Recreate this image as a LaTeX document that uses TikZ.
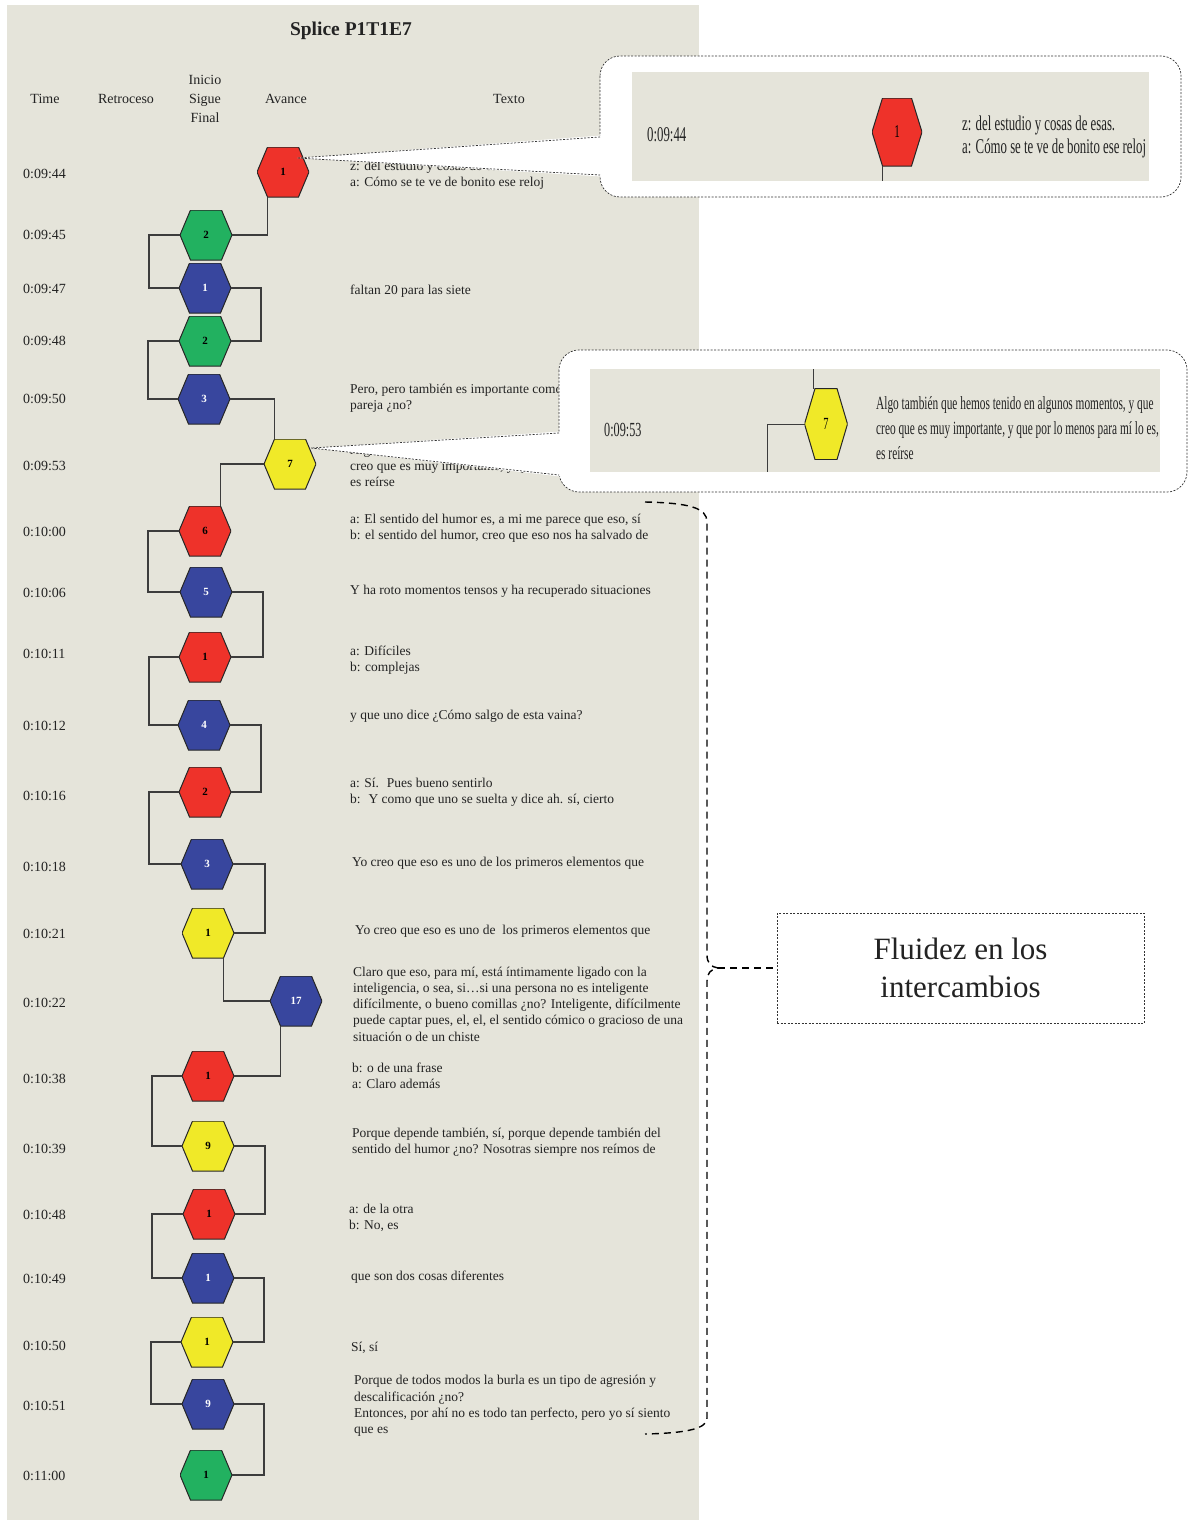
\documentclass[tikz,border=0pt]{standalone}
\usepackage{fontspec}
\setmainfont{Liberation Serif}
\newfontfamily\condfont[FakeStretch=0.61]{Liberation Serif}
\usetikzlibrary{calc}
\definecolor{bgc}{RGB}{229,228,218}
\definecolor{hred}{RGB}{238,50,42}
\definecolor{hgreen}{RGB}{34,177,96}
\definecolor{hblue}{RGB}{56,70,158}
\definecolor{hyellow}{RGB}{240,233,40}
\definecolor{lnc}{RGB}{60,60,60}
\definecolor{txc}{RGB}{35,35,35}
\tikzset{
  hexbase/.style={shape=rectangle, inner sep=0pt, outer sep=0pt, minimum width=52pt, minimum height=50pt,
    path picture={\filldraw[draw=black!85, line width=1pt, fill=#1]
      (path picture bounding box.west) -- ([xshift=10.5pt]path picture bounding box.north west)
      -- ([xshift=-10.5pt]path picture bounding box.north east) -- (path picture bounding box.east)
      -- ([xshift=-10.5pt]path picture bounding box.south east) -- ([xshift=10.5pt]path picture bounding box.south west)
      -- cycle;}},
  hexnum/.style={font=\fontsize{11}{12}\selectfont\bfseries},
  hexR/.style={hexbase=hred, hexnum, text=black},
  hexG/.style={hexbase=hgreen, hexnum, text=black},
  hexY/.style={hexbase=hyellow, hexnum, text=black},
  hexB/.style={hexbase=hblue, hexnum, text=white},
  conn/.style={draw=lnc, line width=1.3pt},
  tm/.style={anchor=west, inner sep=0pt, font=\fontsize{14}{16}\selectfont, text=txc},
  hd/.style={inner sep=0pt, align=center, font=\fontsize{14}{19}\selectfont, text=txc},
  tx/.style={anchor=west, inner sep=0pt, align=left, font=\fontsize{13.5}{16.25}\selectfont, text=txc},
  callout/.style={draw=black!80, line width=0.7pt, dash pattern=on 2pt off 1.5pt},
  ctime/.style={anchor=west, inner sep=0pt, font=\condfont\fontsize{21}{23}\selectfont, text=txc},
  ctext/.style={anchor=west, inner sep=0pt, align=left, font=\condfont\fontsize{20}{24}\selectfont, text=txc},
  brace/.style={draw=black, line width=1.4pt, dash pattern=on 7pt off 5pt},
  flbox/.style={draw=black!80, line width=0.7pt, dash pattern=on 2pt off 1.5pt, align=center,
    minimum width=367pt, minimum height=110pt, inner sep=0pt, font=\fontsize{31}{38}\selectfont, text=txc}
}
\begin{document}
\begin{tikzpicture}[x=1pt,y=-1pt]
\useasboundingbox (0,0) rectangle (1190,1520);
\fill[white] (0,0) rectangle (1190,1520);
\fill[bgc] (7,5) rectangle (699,1520);

% title and headers
\node[font=\fontsize{19.5}{22}\selectfont\bfseries, text=txc] (title) at (351,31) {Splice P1T1E7};
\node[hd] (hTime) at (45,99) {Time};
\node[hd] (hRet) at (126,99) {Retroceso};
\node[hd] (hIni) at (205,99) {Inicio\\Sigue\\Final};
\node[hd] (hAva) at (286,99) {Avance};
\node[hd] (hTex) at (509,99) {Texto};

% times
\node[tm] (t1) at (23,174) {0:09:44};
\node[tm] (t2) at (23,235) {0:09:45};
\node[tm] (t3) at (23,289) {0:09:47};
\node[tm] (t4) at (23,341) {0:09:48};
\node[tm] (t5) at (23,399) {0:09:50};
\node[tm] (t6) at (23,466) {0:09:53};
\node[tm] (t7) at (23,532) {0:10:00};
\node[tm] (t8) at (23,593) {0:10:06};
\node[tm] (t9) at (23,654) {0:10:11};
\node[tm] (t10) at (23,726) {0:10:12};
\node[tm] (t11) at (23,796) {0:10:16};
\node[tm] (t12) at (23,867) {0:10:18};
\node[tm] (t13) at (23,934) {0:10:21};
\node[tm] (t14) at (23,1003) {0:10:22};
\node[tm] (t15) at (23,1079) {0:10:38};
\node[tm] (t16) at (23,1149) {0:10:39};
\node[tm] (t17) at (23,1215) {0:10:48};
\node[tm] (t18) at (23,1279) {0:10:49};
\node[tm] (t19) at (23,1346) {0:10:50};
\node[tm] (t20) at (23,1406) {0:10:51};
\node[tm] (t21) at (23,1476) {0:11:00};

% texts
\node[tx] (x1) at (350,175) {z: del estudio y cosas de esas.\\a: Cómo se te ve de bonito ese reloj};
\node[tx] (x3) at (350,291) {faltan 20 para las siete};
\node[tx] (x5) at (350,398) {Pero, pero también es importante como\\pareja ¿no?};
\node[tx] (x6) at (350,466) {Algo también que hemos tenido en algunos momentos, y que\\creo que es muy importante, y que por lo menos para mí lo es,\\es reírse};
\node[tx] (x7) at (350,528) {a: El sentido del humor es, a mi me parece que eso, sí\\b: el sentido del humor, creo que eso nos ha salvado de};
\node[tx] (x8) at (350,591) {Y ha roto momentos tensos y ha recuperado situaciones};
\node[tx] (x9) at (350,660) {a: Difíciles\\b: complejas};
\node[tx] (x10) at (350,716) {y que uno dice ¿Cómo salgo de esta vaina?};
\node[tx] (x11) at (350,792) {a: Sí.~ Pues bueno sentirlo\\b:~ Y como que uno se suelta y dice ah. sí, cierto};
\node[tx] (x12) at (352,863) {Yo creo que eso es uno de los primeros elementos que};
\node[tx] (x13) at (355,931) {Yo creo que eso es uno de~ los primeros elementos que};
\node[tx] (x14) at (353,1004) {Claro que eso, para mí, está íntimamente ligado con la\\inteligencia, o sea, si…si una persona no es inteligente\\difícilmente, o bueno comillas ¿no? Inteligente, difícilmente\\puede captar pues, el, el, el sentido cómico o gracioso de una\\situación o de un chiste};
\node[tx] (x15) at (352,1076) {b: o de una frase\\a: Claro además};
\node[tx] (x16) at (352,1142) {Porque depende también, sí, porque depende también del\\sentido del humor ¿no? Nosotras siempre nos reímos de};
\node[tx] (x17) at (349,1218) {a: de la otra\\b: No, es};
\node[tx] (x18) at (351,1277) {que son dos cosas diferentes};
\node[tx] (x19) at (351,1348) {Sí, sí};
\node[tx] (x20) at (354,1406) {Porque de todos modos la burla es un tipo de agresión y\\descalificación ¿no?\\Entonces, por ahí no es todo tan perfecto, pero yo sí siento\\que es};

% hexagons
\node[hexR] (h1) at (283,172) {1};
\node[hexG] (h2) at (206,235) {2};
\node[hexB] (h3) at (205,288) {1};
\node[hexG] (h4) at (205,341) {2};
\node[hexB] (h5) at (204,399) {3};
\node[hexY] (h6) at (290,464) {7};
\node[hexR] (h7) at (205,531) {6};
\node[hexB] (h8) at (206,592) {5};
\node[hexR] (h9) at (205,657) {1};
\node[hexB] (h10) at (204,725) {4};
\node[hexR] (h11) at (205,792) {2};
\node[hexB] (h12) at (207,864) {3};
\node[hexY] (h13) at (208,933) {1};
\node[hexB] (h14) at (296,1001) {17};
\node[hexR] (h15) at (208,1076) {1};
\node[hexY] (h16) at (208,1146) {9};
\node[hexR] (h17) at (209,1214) {1};
\node[hexB] (h18) at (208,1278) {1};
\node[hexY] (h19) at (207,1342) {1};
\node[hexB] (h20) at (208,1404) {9};
\node[hexG] (h21) at (206,1475) {1};

% connectors
\draw[conn] ([xshift=-15.5pt]h1.south) |- (h2.east);
\draw[conn] (h2.west) -- ++(-31,0) |- (h3.west);
\draw[conn] (h3.east) -- ++(30,0) |- (h4.east);
\draw[conn] (h4.west) -- ++(-31,0) |- (h5.west);
\draw[conn] (h5.east) -| ([xshift=-15.5pt]h6.north);
\draw[conn] (h6.west) -| ([xshift=15.5pt]h7.north);
\draw[conn] (h7.west) -- ++(-31,0) |- (h8.west);
\draw[conn] (h8.east) -- ++(31,0) |- (h9.east);
\draw[conn] (h9.west) -- ++(-30,0) |- (h10.west);
\draw[conn] (h10.east) -- ++(31,0) |- (h11.east);
\draw[conn] (h11.west) -- ++(-30,0) |- (h12.west);
\draw[conn] (h12.east) -- ++(32,0) |- (h13.east);
\draw[conn] ([xshift=15.5pt]h13.south) |- (h14.west);
\draw[conn] ([xshift=-15.5pt]h14.south) |- (h15.east);
\draw[conn] (h15.west) -- ++(-30,0) |- (h16.west);
\draw[conn] (h16.east) -- ++(31,0) |- (h17.east);
\draw[conn] (h17.west) -- ++(-31,0) |- (h18.west);
\draw[conn] (h18.east) -- ++(30,0) |- (h19.east);
\draw[conn] (h19.west) -- ++(-30,0) |- (h20.west);
\draw[conn] (h20.east) -- ++(30,0) |- (h21.east);

% callout 1
\draw[callout, fill=white, rounded corners=20pt] (600,56) rectangle (1181,197);
\coordinate (w1) at ($(h1.center)+(14,-14)$);
\fill[white] (w1) -- (601.5,135.5) -- (601.5,176.5) -- cycle;
\draw[callout] (600,137) -- (w1) -- (600,175);
\fill[bgc] (632,72) rectangle (1149,181);
\node[ctime] (c1t) at (647,135) {0:09:44};
\node[hexR, minimum width=50pt, minimum height=68pt, font=\condfont\fontsize{18}{18}\selectfont] (c1h) at (897,132) {1};
\coordinate (c1b) at (882,181);
\draw[conn, line width=1pt] (c1h.south -| c1b) -- (c1b);
\node[ctext, font=\condfont\fontsize{21}{23}\selectfont] (c1x) at (962,136.5) {z: del estudio y cosas de esas.\\a: Cómo se te ve de bonito ese reloj};

% callout 2
\draw[callout, fill=white, rounded corners=20pt] (559,350) rectangle (1187,492);
\coordinate (w2) at ($(h6.center)+(21,-16)$);
\fill[white] (w2) -- (560.5,431.5) -- (560.5,476.5) -- cycle;
\draw[callout] (559,433) -- (w2) -- (559,475);
\fill[bgc] (590,369) rectangle (1160,472);
\node[ctime, font=\condfont\fontsize{20}{22}\selectfont] (c2t) at (604,430) {0:09:53};
\node[hexY, minimum width=43pt, minimum height=71pt, font=\condfont\fontsize{17}{17}\selectfont] (c2h) at (826,424) {7};
\coordinate (c2a) at (813,369);
\coordinate (c2b) at (767,472);
\draw[conn, line width=1pt] (c2h.north -| c2a) -- (c2a);
\draw[conn, line width=1pt] (c2h.west) -| (c2b);
\node[ctext, font=\condfont\fontsize{18.6}{25}\selectfont] (c2x) at (876,428) {Algo también que hemos tenido en algunos momentos, y que\\creo que es muy importante, y que por lo menos para mí lo es,\\es reírse};

% summary box and brace
\node[flbox] (fl) at (960.5,968) {Fluidez en los\\intercambios};
\draw[brace] (645,502) .. controls (690,503) and (707,508) .. (707,522) -- (707,955)
  .. controls (707,963) and (711,967) .. (718,968)
  .. controls (711,969) and (707,973) .. (707,981) -- (707,1418)
  .. controls (707,1428) and (690,1433) .. (645,1434);
\draw[brace] (718,968) -- (fl.west);
\end{tikzpicture}
\end{document}
